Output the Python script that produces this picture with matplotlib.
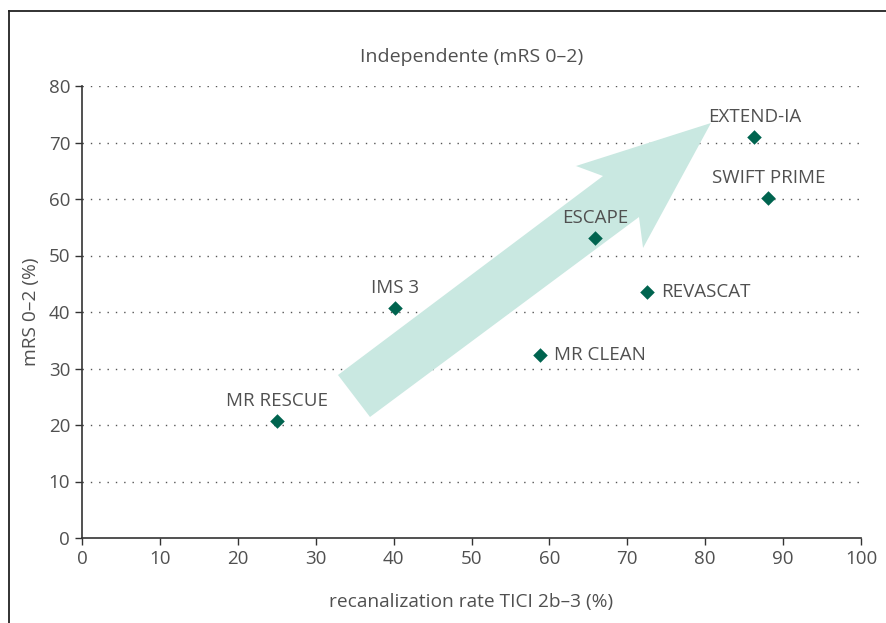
import matplotlib.pyplot as plt
from matplotlib.patches import Polygon
from matplotlib.lines import Line2D

plt.rcParams['font.family'] = ['Open Sans', 'DejaVu Sans']

trials = ['MR RESCUE', 'IMS 3', 'MR CLEAN', 'ESCAPE', 'REVASCAT', 'EXTEND-IA', 'SWIFT PRIME']
ticirate = [25.0, 40.2, 58.8, 65.9, 72.5, 86.3, 88.1]
mrs02 = [20.7, 40.7, 32.4, 53.1, 43.5, 71.0, 60.2]
# where each label sits relative to its marker
label_pos = ['above', 'above', 'right', 'above', 'right', 'above', 'above']

txt = '#505050'
fig = plt.figure(figsize=(8.86, 6.23), dpi=100)
ax = fig.add_axes([82/886, 1-538/623, (861-82)/886, (538-86)/623])

# big trend arrow (decoration)
arrow = [(32.86, 28.85), (66.88, 64.07), (63.41, 65.84), (80.74, 73.45),
         (72.02, 51.33), (71.50, 56.81), (36.97, 21.42)]
ax.add_patch(Polygon(arrow, closed=True, facecolor='#c9e8e1', edgecolor='none', zorder=1))

ax.scatter(ticirate, mrs02, marker='D', s=55, color='#00644f', zorder=3, linewidths=0)
for name, x, y, p in zip(trials, ticirate, mrs02, label_pos):
    if p == 'above':
        ax.annotate(name, (x, y), xytext=(0, 8), textcoords='offset points',
                    ha='center', va='bottom', fontsize=13.5, color=txt)
    else:
        ax.annotate(name, (x, y), xytext=(10, 0), textcoords='offset points',
                    ha='left', va='center', fontsize=13.5, color=txt)

ax.set_xlim(0, 100)
ax.set_ylim(0, 80)
ax.set_xticks(range(0, 101, 10))
ax.set_yticks(range(0, 81, 10))
for yv in range(10, 81, 10):
    ax.axhline(yv, color='#555555', lw=1, ls=(0, (1, 5)), zorder=0)
for s in ['top', 'right']:
    ax.spines[s].set_visible(False)
for s in ['left', 'bottom']:
    ax.spines[s].set_color('#333333')
    ax.spines[s].set_linewidth(1.2)
ax.tick_params(colors='#333333', labelcolor=txt, labelsize=13.5, length=5, width=1)
ax.set_xlabel('recanalization rate TICI 2b–3 (%)', fontsize=13.8, color=txt, labelpad=18)
ax.set_ylabel('mRS 0–2 (%)', fontsize=13.8, color=txt, labelpad=6)
ax.set_title('Independente (mRS 0–2)', fontsize=14, color=txt, pad=17)

# frame lines at left and top edge of the figure
fig.add_artist(Line2D([9/886, 9/886], [0, 1-11/623], color='#222222', lw=1.3))
fig.add_artist(Line2D([9/886, 1], [1-11/623, 1-11/623], color='#222222', lw=1.3))

fig.savefig('out.png', dpi=100)
